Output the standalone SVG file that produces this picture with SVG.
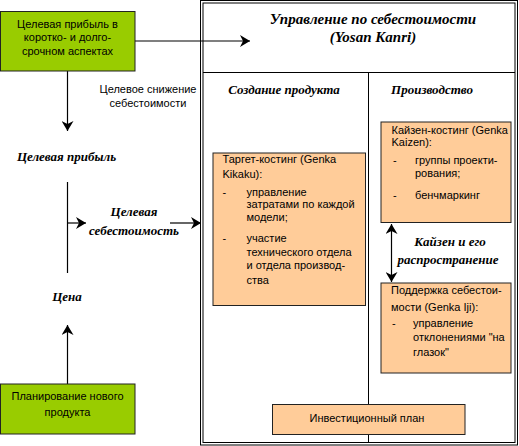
<svg xmlns="http://www.w3.org/2000/svg" width="519" height="446" viewBox="0 0 519 446">
<style>
.s{font-family:"Liberation Sans",Arial,sans-serif;font-size:11px;fill:#000}
.m{text-anchor:middle}
.h{font-family:"Liberation Serif","Times New Roman",serif;font-weight:bold;font-style:italic;font-size:13px;fill:#000}
.t{font-family:"Liberation Serif","Times New Roman",serif;font-weight:bold;font-style:italic;font-size:15px;fill:#000;text-anchor:middle}
.g{fill:#99CC00;stroke:#222;stroke-width:1}
.p{fill:#FFCC99;stroke:#222;stroke-width:1}
.ln{stroke:#000;stroke-width:1;fill:none}
.c{stroke:#000;stroke-width:1.2;fill:none}
</style>
<defs>
<marker id="ah" markerUnits="userSpaceOnUse" markerWidth="11" markerHeight="12" refX="10" refY="6" orient="auto-start-reverse">
<path d="M0,0 L10,6 L0,12 L3,6 Z" fill="#000"/>
</marker>
</defs>
<rect width="519" height="446" fill="#fff"/>
<g id="frame">
<rect class="ln" x="200.5" y="0.5" width="317" height="444.5"/>
<rect class="ln" x="203" y="3" width="312" height="439.5"/>
<line class="ln" x1="203" y1="72.5" x2="515" y2="72.5"/>
<line class="ln" x1="368.5" y1="72.5" x2="368.5" y2="442.5"/>
<text class="t" x="373" y="24">Управление по себестоимости</text>
<text class="t" x="373" y="42">(Yosan Kanri)</text>
<text class="h m" x="284" y="94">Создание продукта</text>
<text class="h m" x="432" y="94">Производство</text>
</g>
<g id="connectors">
<line class="c" x1="135" y1="41" x2="250" y2="41" marker-end="url(#ah)"/>
<line class="c" x1="67.5" y1="71" x2="67.5" y2="131" marker-end="url(#ah)"/>
<line class="c" x1="67.5" y1="182" x2="67.5" y2="273"/>
<line class="c" x1="67.5" y1="223" x2="86" y2="223" marker-end="url(#ah)"/>
<line class="c" x1="170" y1="223" x2="201" y2="223" marker-end="url(#ah)"/>
<line class="c" x1="67.5" y1="384" x2="67.5" y2="325" marker-end="url(#ah)"/>
<line class="c" x1="391.5" y1="224" x2="391.5" y2="282" marker-start="url(#ah)" marker-end="url(#ah)"/>
</g>
<g id="goal-profit-box">
<rect class="g" x="0.5" y="11.5" width="134.5" height="59.5"/>
<text class="s m" x="67.5" y="27.5">Целевая прибыль в</text>
<text class="s m" x="67.5" y="41">коротко- и долго-</text>
<text class="s m" x="67.5" y="55">срочном аспектах</text>
</g>
<g id="cost-reduction-label">
<text class="s m" x="148" y="92.5">Целевое снижение</text>
<text class="s m" x="148" y="107">себестоимости</text>
</g>
<g id="target-profit-label">
<text class="h m" x="66.5" y="161">Целевая прибыль</text>
</g>
<g id="target-cost-label">
<text class="h m" x="134" y="216">Целевая</text>
<text class="h m" x="134" y="235">себестоимость</text>
</g>
<g id="price-label">
<text class="h m" x="67" y="301">Цена</text>
</g>
<g id="new-product-box">
<rect class="g" x="0.5" y="384" width="134.5" height="50"/>
<text class="s m" x="67.5" y="400">Планирование нового</text>
<text class="s m" x="67.5" y="416">продукта</text>
</g>
<g id="target-costing-box">
<rect class="p" x="213" y="153" width="152.5" height="152.5"/>
<text class="s" x="222.5" y="163">Таргет-костинг (Genka</text>
<text class="s" x="222.5" y="177.5">Kikaku):</text>
<text class="s" x="222.5" y="196">-</text>
<text class="s" x="246.5" y="196">управление</text>
<text class="s" x="246.5" y="208">затратами по каждой</text>
<text class="s" x="246.5" y="221">модели;</text>
<text class="s" x="222.5" y="242">-</text>
<text class="s" x="246.5" y="242">участие</text>
<text class="s" x="246.5" y="256">технического отдела</text>
<text class="s" x="246.5" y="269">и отдела производ-</text>
<text class="s" x="246.5" y="284">ства</text>
</g>
<g id="kaizen-costing-box">
<rect class="p" x="381" y="122" width="130" height="100.5"/>
<text class="s" x="391.5" y="133.5">Кайзен-костинг (Genka</text>
<text class="s" x="391.5" y="146">Kaizen):</text>
<text class="s" x="393" y="164">-</text>
<text class="s" x="415" y="164">группы проекти-</text>
<text class="s" x="415" y="177">рования;</text>
<text class="s" x="393" y="199">-</text>
<text class="s" x="415" y="199">бенчмаркинг</text>
</g>
<g id="kaizen-spread-label">
<text class="h m" x="450" y="246">Кайзен и его</text>
<text class="h m" x="448" y="264">распространение</text>
</g>
<g id="cost-maintenance-box">
<rect class="p" x="381" y="283" width="130" height="90"/>
<text class="s" x="391" y="294">Поддержка себестои-</text>
<text class="s" x="391" y="311">мости (Genka Iji):</text>
<text class="s" x="392" y="327">-</text>
<text class="s" x="413" y="327">управление</text>
<text class="s" x="413" y="341">отклонениями "на</text>
<text class="s" x="413" y="356">глазок"</text>
</g>
<g id="investment-plan-box">
<rect class="p" x="272.5" y="404.5" width="192.5" height="30"/>
<text class="s m" x="367" y="422">Инвестиционный план</text>
</g>
</svg>
